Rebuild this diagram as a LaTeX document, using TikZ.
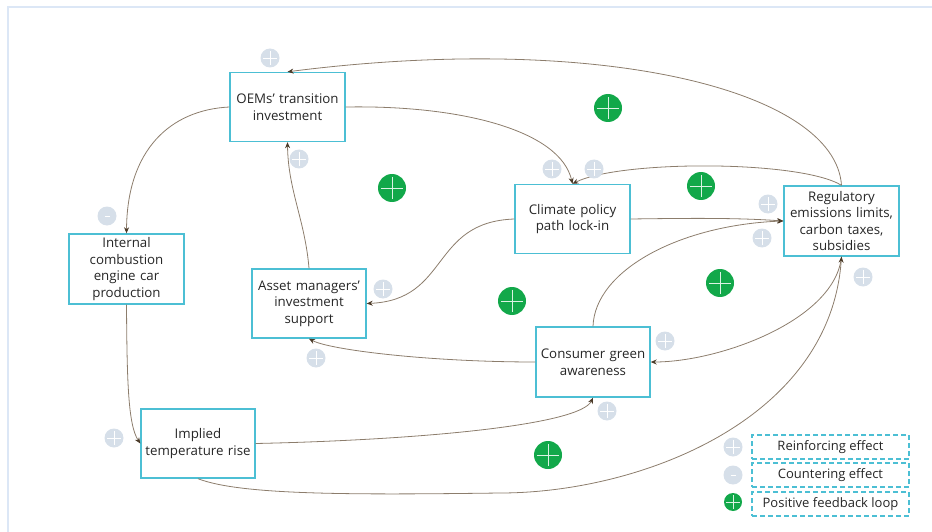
\documentclass[tikz,border=0pt]{standalone}
\usepackage{fontspec}
\setmainfont{Open Sans}
\usetikzlibrary{arrows.meta}
\definecolor{boxc}{HTML}{4CBFD4}
\definecolor{linec}{HTML}{8C7D6C}
\definecolor{tipc}{HTML}{4A3A28}
\definecolor{signc}{HTML}{D6DFE9}
\definecolor{greenc}{HTML}{12A84A}
\definecolor{framec}{HTML}{DCE7F6}
\definecolor{txtc}{HTML}{262626}
\tikzset{
  box/.style={draw=boxc, line width=1.4pt, fill=white, align=center, inner sep=0pt,
    minimum width=115pt, minimum height=69pt, text width=114pt, text=txtc,
    font=\fontsize{13.3}{16.5}\selectfont},
  conn/.style={draw=linec, line width=0.8pt, -{Stealth[length=6pt,width=5pt,color=tipc]}},
  legbox/.style={draw=boxc, line width=1.2pt, dash pattern=on 5pt off 3pt, inner sep=0pt,
    minimum width=157pt, minimum height=24pt, text=txtc, font=\fontsize{13}{15}\selectfont},
}
\newcommand{\possign}[2]{%
  \fill[signc] (#1,#2) circle (9.5);
  \draw[white, line width=0.6pt] (#1-7,#2) -- (#1+7,#2) (#1,#2-7) -- (#1,#2+7);}
\newcommand{\negsign}[2]{%
  \fill[signc] (#1,#2) circle (9.5);
  \draw[white, line width=0.6pt] (#1-2.5,#2) -- (#1+2.5,#2);}
\newcommand{\loopsign}[3]{%
  \fill[greenc] (#1,#2) circle (#3);
  \draw[white!85!greenc, line width=0.8pt] (#1-#3*0.8,#2) -- (#1+#3*0.8,#2) (#1,#2-#3*0.8) -- (#1,#2+#3*0.8);}
\begin{document}
\begin{tikzpicture}[x=1pt,y=-1pt]
\useasboundingbox (0,0) rectangle (932,532);
\draw[framec, line width=2pt] (8,532) -- (8,7) -- (932,7);

\node[box] (oem) at (287.5,107) {OEMs’ transition\\investment};
\node[box] (clim) at (572.5,219) {Climate policy\\path lock-in};
\node[box, minimum height=70pt] (reg) at (841.5,221) {Regulatory\\emissions limits,\\carbon taxes,\\subsidies};
\node[box, minimum height=70pt] (ice) at (126.5,269) {Internal\\combustion\\engine car\\production};
\node[box, minimum width=114pt] (asset) at (309,303.5) {Asset managers’\\investment\\support};
\node[box, minimum width=114pt, minimum height=70pt] (cons) at (593,362) {Consumer green\\awareness};
\node[box, minimum width=114pt] (impl) at (198,443.5) {Implied\\temperature rise};

% connectors
\draw[conn] (reg.north) .. controls (835,90) and (600,32) .. (oem.north);
\draw[conn] (reg.north) .. controls (800,160) and (620,160) .. (clim.north);
\draw[conn] (oem.east) .. controls (460,105) and (560,130) .. (clim.north);
\draw[conn] (clim.east) .. controls (700,218) and (740,218) .. (reg.west);
\draw[conn] (cons.north) .. controls (595,270) and (680,225) .. (reg.west);
\draw[conn] (reg.south) .. controls (835,320) and (720,362) .. (cons.east);
\draw[conn] (impl.south) .. controls (240,495) and (350,495) .. (500,493)
  .. controls (640,493) and (830,420) .. (reg.south);
\draw[conn] (impl.east) .. controls (420,440) and (580,425) .. (cons.south);
\draw[conn] (cons.west) .. controls (430,362) and (330,350) .. (asset.south);
\draw[conn] (clim.west) .. controls (430,222) and (450,300) .. (asset.east);
\draw[conn] (asset.north) .. controls (305,220) and (288,190) .. (oem.south);
\draw[conn] (oem.west) .. controls (170,110) and (127,150) .. (ice.north);
\draw[conn] (ice.south) .. controls (127,380) and (128,425) .. (impl.west);

% signs
\possign{270}{58}
\possign{299}{159}
\negsign{107}{216}
\possign{552}{169}
\possign{594}{169}
\possign{768}{204}
\possign{762}{238}
\possign{863}{277}
\possign{383}{289}
\possign{316}{358}
\possign{665}{341}
\possign{607}{411}
\possign{114}{438}

% feedback loops
\loopsign{608}{108}{14}
\loopsign{392}{188}{14}
\loopsign{701}{186}{14}
\loopsign{512}{301}{14}
\loopsign{720}{283}{14}
\loopsign{548}{455}{14}

% legend
\possign{733}{447}
\negsign{733}{475}
\loopsign{733}{502}{9}
\node[legbox] (l1) at (830.5,447) {Reinforcing effect};
\node[legbox] (l2) at (830.5,475) {Countering effect};
\node[legbox] (l3) at (830.5,504) {Positive feedback loop};
\end{tikzpicture}
\end{document}
